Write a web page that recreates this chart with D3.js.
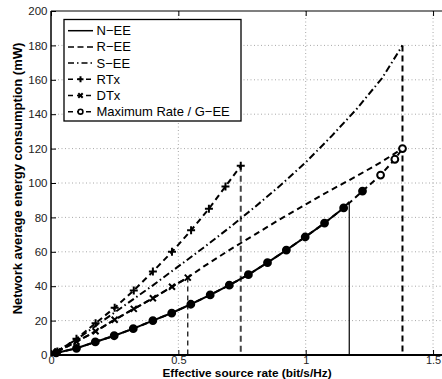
<!DOCTYPE html>
<html><head><meta charset="utf-8">
<script src="https://cdn.jsdelivr.net/npm/d3@7"></script>
<style>
html,body{margin:0;padding:0;background:#fff;}
svg{display:block;font-family:"Liberation Sans",Arial,Helvetica,sans-serif;}
</style></head>
<body>
<svg id="chart" width="442" height="379"></svg>
<script>
// ---- data ----
const xTicks = [0, 0.5, 1, 1.5];
const yTicks = [0, 20, 40, 60, 80, 100, 120, 140, 160, 180, 200];
const xTickLabels = ["0", "0.5", "1", "1.5"];

const seriesNames = ["N\u2212EE", "R\u2212EE", "S\u2212EE", "RTx", "DTx", "Maximum Rate / G\u2212EE"];

const nEE_x = [0.02, 0.1, 0.174, 0.248, 0.323, 0.40, 0.474, 0.549, 0.625, 0.70, 0.775, 0.85, 0.924, 0.998, 1.074, 1.149, 1.171];
const nEE_y = [1.2, 3.9, 7.6, 11.2, 15.3, 20.0, 24.4, 29.5, 34.9, 40.6, 46.7, 53.7, 61.0, 68.6, 76.7, 85.5, 89.0];

const rEE_x = [0.02, 0.1, 0.175, 0.25, 0.325, 0.4, 0.475, 0.537, 0.6, 0.7, 0.8, 0.9, 1.0, 1.1, 1.2, 1.3, 1.38];
const rEE_y = [2.0, 7.7, 13.8, 20.5, 26.8, 33.0, 39.7, 45.0, 51.5, 61.0, 70.0, 79.0, 87.5, 96.0, 104.0, 112.5, 120.0];

const sEE_x = [0.02, 0.1, 0.2, 0.3, 0.4, 0.5, 0.6, 0.7, 0.8, 0.9, 1.0, 1.1, 1.2, 1.3, 1.38];
const sEE_y = [2.0, 9.0, 19.5, 30.0, 40.5, 51.5, 62.5, 74.0, 86.0, 98.5, 112.0, 127.0, 143.0, 161.0, 180.0];

const rtx_x = [0.025, 0.1, 0.175, 0.25, 0.325, 0.4, 0.475, 0.55, 0.62, 0.685, 0.745];
const rtx_y = [2.0, 9.5, 18.5, 27.5, 37.5, 48.5, 60.0, 72.5, 85.0, 98.0, 110.0];

const dtx_x = [0.025, 0.1, 0.175, 0.25, 0.325, 0.4, 0.475, 0.537];
const dtx_y = [2.0, 7.7, 13.8, 20.5, 26.8, 33.0, 39.7, 45.0];

const gEE_x = [0.02, 0.1, 0.174, 0.248, 0.323, 0.40, 0.474, 0.549, 0.625, 0.70, 0.775, 0.85, 0.924, 0.998, 1.074, 1.149, 1.223, 1.294, 1.35, 1.38];
const gEE_y = [1.2, 3.9, 7.6, 11.2, 15.3, 20.0, 24.4, 29.5, 34.9, 40.6, 46.7, 53.7, 61.0, 68.6, 76.7, 85.5, 95.3, 104.6, 113.8, 120.0];

// drop lines at the end of curves
const dropX = [0.537, 0.745, 1.171, 1.38];
const dropTop = [45.0, 110.0, 89.0, 180.0];

// ---- layout ----
const svg = d3.select("#chart");
const x = d3.scaleLinear().domain([0, 1.6]).range([51, 51 + 1.6 * 254.7]);
const y = d3.scaleLinear().domain([0, 200]).range([355, 11]);
const W = 442, H = 379;

svg.append("rect").attr("width", W).attr("height", H).attr("fill", "#fff");

const grid = svg.append("g");
xTicks.filter(t => t > 0).forEach(t => {
  grid.append("line").attr("x1", x(t)).attr("x2", x(t)).attr("y1", y(0)).attr("y2", y(200))
    .attr("stroke", "#a8a8a8").attr("stroke-width", 1).attr("stroke-dasharray", "1,2.5");
});
yTicks.filter(t => t > 0 && t < 200).forEach(t => {
  grid.append("line").attr("x1", x(0)).attr("x2", x(1.6)).attr("y1", y(t)).attr("y2", y(t))
    .attr("stroke", "#a8a8a8").attr("stroke-width", 1).attr("stroke-dasharray", "1,2.5");
});

const xAxis = d3.axisBottom(x).tickValues(xTicks).tickFormat((d, i) => xTickLabels[i]).tickSizeInner(-5).tickSizeOuter(0).tickPadding(1);
const gx = svg.append("g").attr("transform", `translate(0,${y(0)})`).call(xAxis);
gx.select(".domain").remove();
gx.selectAll("line").attr("stroke", "#000");
gx.selectAll("text").attr("font-size", 11).attr("fill", "#222").attr("font-family", "Liberation Sans, Arial, sans-serif");

const xAxisTop = d3.axisTop(x).tickValues(xTicks).tickFormat("").tickSizeInner(-5).tickSizeOuter(0);
const gxt = svg.append("g").attr("transform", `translate(0,${y(200)})`).call(xAxisTop);
gxt.select(".domain").remove();
gxt.selectAll("line").attr("stroke", "#000");

const yAxis = d3.axisLeft(y).tickValues(yTicks).tickFormat(d3.format("d")).tickSizeInner(-5).tickSizeOuter(0).tickPadding(3.5);
const gy = svg.append("g").attr("transform", `translate(${x(0)},0)`).call(yAxis);
gy.select(".domain").remove();
gy.selectAll("line").attr("stroke", "#000");
gy.selectAll("text").attr("font-size", 11.5).attr("fill", "#222").attr("font-family", "Liberation Sans, Arial, sans-serif");

// frame
svg.append("line").attr("x1", x(0)).attr("x2", x(1.6)).attr("y1", y(200)).attr("y2", y(200)).attr("stroke", "#000").attr("stroke-width", 1.2);
svg.append("line").attr("x1", x(0)).attr("x2", x(1.6)).attr("y1", y(0)).attr("y2", y(0)).attr("stroke", "#000").attr("stroke-width", 2);
svg.append("line").attr("x1", x(0)).attr("x2", x(0)).attr("y1", y(0) + 1).attr("y2", y(200)).attr("stroke", "#000").attr("stroke-width", 1.5);

// ---- styles ----
const DASH = "6,4";
const DASHDOT = "7,3,1.5,3";
const line = d3.line().x(d => x(d[0])).y(d => y(d[1]));
const zip = (a, b) => a.map((v, i) => [v, b[i]]);

const plot = svg.append("g");

const dropStyles = [
  {dash: "5,4", w: 1.2, c: "#000"},
  {dash: "6,4", w: 2, c: "#444"},
  {dash: null, w: 1.2, c: "#000"},
  {dash: "6,4", w: 2, c: "#000"}
];
dropX.forEach((dx, i) => {
  const s = dropStyles[i];
  const l = plot.append("line").attr("x1", x(dx)).attr("x2", x(dx)).attr("y1", y(dropTop[i])).attr("y2", y(0))
    .attr("stroke", s.c).attr("stroke-width", s.w);
  if (s.dash) l.attr("stroke-dasharray", s.dash);
});

function drawLine(xs, ys, dash, w) {
  const p = plot.append("path").attr("d", line(zip(xs, ys))).attr("fill", "none")
    .attr("stroke", "#000").attr("stroke-width", w || 2).attr("stroke-linejoin", "round");
  if (dash) p.attr("stroke-dasharray", dash);
}
function plus(g, cx, cy, s) {
  g.append("path").attr("d", `M${cx - s},${cy}H${cx + s}M${cx},${cy - s}V${cy + s}`).attr("stroke", "#000").attr("stroke-width", 2).attr("fill", "none");
}
function cross(g, cx, cy, s) {
  g.append("path").attr("d", `M${cx - s},${cy - s}L${cx + s},${cy + s}M${cx - s},${cy + s}L${cx + s},${cy - s}`).attr("stroke", "#000").attr("stroke-width", 2).attr("fill", "none");
}
function circ(g, cx, cy, r, fill) {
  g.append("circle").attr("cx", cx).attr("cy", cy).attr("r", r).attr("fill", fill).attr("stroke", "#000").attr("stroke-width", 2);
}

drawLine(sEE_x, sEE_y, DASHDOT, 2);
drawLine(rEE_x, rEE_y, DASH, 2);
drawLine(rtx_x, rtx_y, DASH, 2);
rtx_x.forEach((v, i) => plus(plot, x(v), y(rtx_y[i]), 4));
drawLine(dtx_x, dtx_y, DASH, 2);
dtx_x.forEach((v, i) => cross(plot, x(v), y(dtx_y[i]), 3));
drawLine(gEE_x, gEE_y, DASH, 2);
const nEnd = nEE_x[nEE_x.length - 1];
gEE_x.forEach((v, i) => circ(plot, x(v), y(gEE_y[i]), 3.4, v <= nEnd + 0.06 ? "#000" : "#fff"));
drawLine(nEE_x, nEE_y, null, 2);

// ---- legend ----
const lg = svg.append("g");
const lgX = 64, lgY = 19.5, lgW = 177, lgH = 101.5;
lg.append("rect").attr("x", lgX).attr("y", lgY).attr("width", lgW).attr("height", lgH)
  .attr("fill", "#fff").attr("stroke", "#000").attr("stroke-width", 1.3);
const legendDash = [null, "6,3.5", "6,3,1.5,3", "5,4", "5,4", "5,4"];
const legendMarker = [null, null, null, "plus", "cross", "circle"];
seriesNames.forEach((name, i) => {
  const cy = 30.7 + i * 16.2;
  const l = lg.append("line").attr("x1", 68).attr("x2", 93).attr("y1", cy).attr("y2", cy)
    .attr("stroke", "#000").attr("stroke-width", 1.5);
  if (legendDash[i]) l.attr("stroke-dasharray", legendDash[i]);
  const m = legendMarker[i];
  if (m === "plus") plus(lg, 80.5, cy, 3);
  if (m === "cross") cross(lg, 80.5, cy, 2.2);
  if (m === "circle") { lg.append("circle").attr("cx", 80.5).attr("cy", cy).attr("r", 2.4).attr("fill", "#fff").attr("stroke", "#000").attr("stroke-width", 1.6); }
  lg.append("text").attr("x", 96.5).attr("y", cy + 4.5).attr("font-size", 13).attr("fill", "#000").text(name);
});

// ---- axis labels ----
svg.append("text").attr("x", 247).attr("y", 376.5).attr("text-anchor", "middle")
  .attr("font-size", 11.8).attr("font-weight", "bold").attr("fill", "#000").text("Effective source rate (bit/s/Hz)");
svg.append("text").attr("transform", `translate(22,178.5) rotate(-90)`).attr("text-anchor", "middle")
  .attr("font-size", 13).attr("font-weight", "bold").attr("fill", "#000").text("Network average energy consumption (mW)");
</script>
</body></html>
